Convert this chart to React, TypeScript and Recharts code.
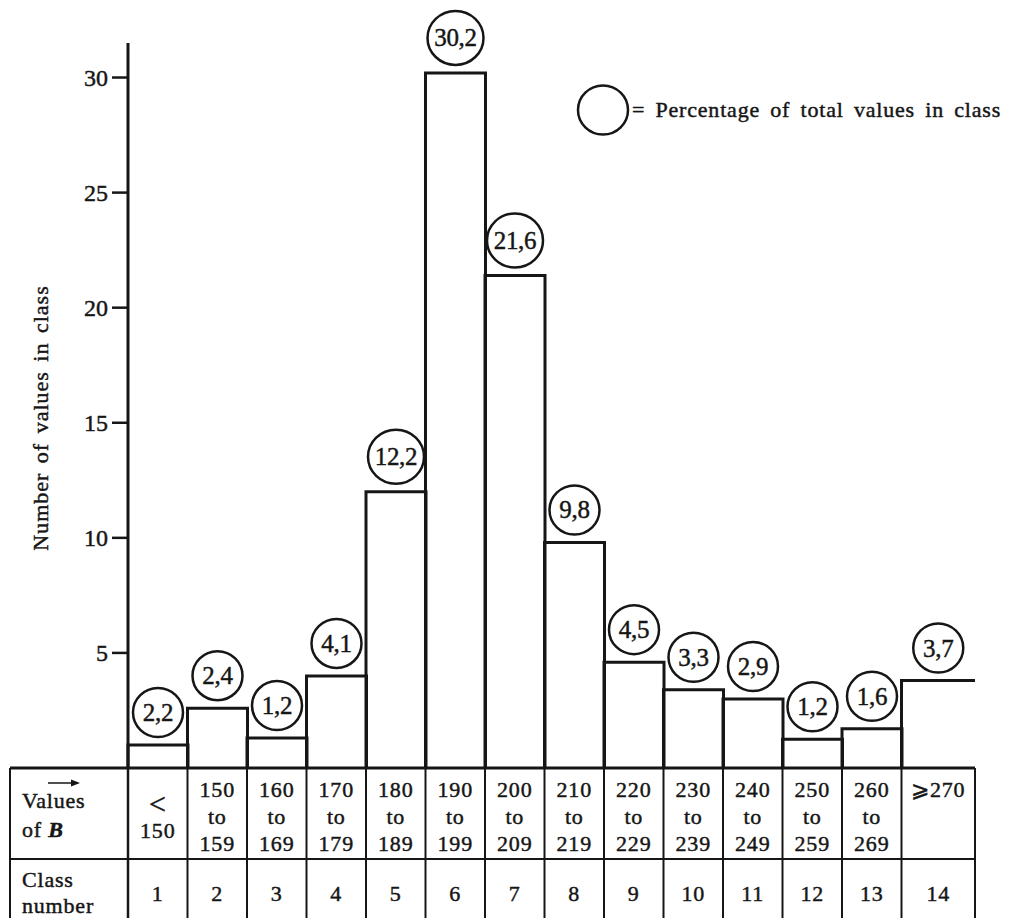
import React from 'react';
import { BarChart, Bar, XAxis, YAxis } from 'recharts';

const classNumbers = ['1', '2', '3', '4', '5', '6', '7', '8', '9', '10', '11', '12', '13', '14'];
const valuesOfB = [
  ['<', '150'], ['150', 'to', '159'], ['160', 'to', '169'], ['170', 'to', '179'],
  ['180', 'to', '189'], ['190', 'to', '199'], ['200', 'to', '209'], ['210', 'to', '219'],
  ['220', 'to', '229'], ['230', 'to', '239'], ['240', 'to', '249'], ['250', 'to', '259'],
  ['260', 'to', '269'], ['⩾270'],
];
const counts = [1.0, 2.6, 1.3, 4.0, 12.0, 30.2, 21.4, 9.8, 4.6, 3.4, 3.0, 1.25, 1.7, 3.8];
const percents = ['2,2', '2,4', '1,2', '4,1', '12,2', '30,2', '21,6', '9,8', '4,5', '3,3', '2,9', '1,2', '1,6', '3,7'];
const yTicks = [5, 10, 15, 20, 25, 30];

const data = classNumbers.map((cls, i) => ({ cls, count: counts[i], pct: percents[i] }));

const W = 1011, H = 918;
const TOP = 43, AXIS_X = 128, PLOT_RIGHT = 961, BASE = 768, ROW = 859;
const TABLE_L = 10, TABLE_R = 975;
const BAND = (PLOT_RIGHT - AXIS_X) / classNumbers.length;
const INK = '#161616';
const FONT = '"Liberation Serif", "Times New Roman", serif';
// the print is heavier than the screen font, so give glyphs a thin outline
const txt = { fill: INK, stroke: INK, strokeWidth: 0.45, fontFamily: FONT, fontSize: 22, letterSpacing: 0.8 };

function HistBar(props: any) {
  const { x, y, width, height, payload } = props;
  const last = payload.cls === classNumbers[classNumbers.length - 1];
  const right = last ? TABLE_R : x + width;
  const d = last
    ? `M${x},${y + height}V${y}H${right}`
    : `M${x},${y + height}V${y}H${right}V${y + height}`;
  const cx = (x + right) / 2;
  const label: string = payload.pct;
  const wide = label.length > 3;
  const rx = wide ? 28 : 25;
  const ry = wide ? 27 : 24.5;
  const cy = y - 8 - ry;
  return (
    <g>
      <path d={d} fill="none" stroke={INK} strokeWidth={3} />
      <ellipse cx={cx} cy={cy} rx={rx} ry={ry} fill="#fff" stroke={INK} strokeWidth={2.5} />
      <text x={cx} y={cy + 8.5} textAnchor="middle" {...txt} fontSize={25} letterSpacing={-0.3}>{label}</text>
    </g>
  );
}

function TableTick(props: any) {
  const { x, payload } = props;
  const i = classNumbers.indexOf(String(payload.value));
  if (i < 0) return null;
  const last = i === classNumbers.length - 1;
  const left = x - BAND / 2;
  const right = last ? TABLE_R : x + BAND / 2;
  const cx = (left + right) / 2;
  const lines = valuesOfB[i];
  const ys = lines.length === 3 ? [797, 824, 851] : lines.length === 2 ? [814, 838] : [797];
  return (
    <g>
      <line x1={right} x2={right} y1={BASE} y2={H} stroke={INK} strokeWidth={2} />
      {lines.map((t, k) => (
        <text key={k} x={cx} y={ys[k]} textAnchor="middle" {...txt} fontSize={t === '<' ? 30 : 22}>{t}</text>
      ))}
      <text x={cx} y={901} textAnchor="middle" {...txt}>{classNumbers[i]}</text>
    </g>
  );
}

export default function App() {
  return (
    <div style={{ position: 'relative', width: W, height: H, background: '#fff' }}>
      <style>{'body{margin:0}'}</style>
      <BarChart
        width={W}
        height={H}
        data={data}
        margin={{ top: TOP, right: W - PLOT_RIGHT, left: 0, bottom: 0 }}
        barCategoryGap={0}
        barGap={0}
      >
        <XAxis
          dataKey="cls"
          height={H - BASE}
          interval={0}
          axisLine={false}
          tickLine={false}
          tick={<TableTick />}
        />
        <YAxis
          width={AXIS_X}
          domain={[0, 31.5]}
          ticks={yTicks}
          axisLine={{ stroke: INK, strokeWidth: 3 }}
          tickLine={{ stroke: INK, strokeWidth: 2.5 }}
          tickSize={16}
          tickMargin={4}
          tick={{ fill: INK, stroke: INK, strokeWidth: 0.45, fontFamily: FONT, fontSize: 24 }}
        />
        <Bar dataKey="count" shape={<HistBar />} isAnimationActive={false} />
      </BarChart>
      <svg width={W} height={H} style={{ position: 'absolute', left: 0, top: 0, pointerEvents: 'none' }}>
        <line x1={TABLE_L} x2={TABLE_R} y1={BASE} y2={BASE} stroke={INK} strokeWidth={3} />
        <line x1={TABLE_L} x2={TABLE_R} y1={ROW} y2={ROW} stroke={INK} strokeWidth={2} />
        <line x1={TABLE_L} x2={TABLE_L} y1={BASE} y2={H} stroke={INK} strokeWidth={2} />
        <line x1={AXIS_X} x2={AXIS_X} y1={BASE} y2={H} stroke={INK} strokeWidth={2.5} />
        <line x1={48} x2={78} y1={783} y2={783} stroke={INK} strokeWidth={1.5} />
        <path d="M80,783 L71,779.5 L71,786.5 Z" fill={INK} />
        <text x={22} y={808} {...txt}>Values</text>
        <text x={22} y={837} {...txt}>of <tspan fontStyle="italic" fontWeight="bold">B</tspan></text>
        <text x={22} y={887} {...txt}>Class</text>
        <text x={22} y={913} {...txt}>number</text>
        <text x={41} y={418} transform="rotate(-90 41 418)" textAnchor="middle" dy={7} {...txt} letterSpacing={1} wordSpacing={3}>
          Number of values in class
        </text>
        <ellipse cx={603} cy={110} rx={25} ry={24.5} fill="none" stroke={INK} strokeWidth={2.5} />
        <text x={632} y={117} {...txt} wordSpacing={4}>= Percentage of total values in class</text>
      </svg>
    </div>
  );
}
